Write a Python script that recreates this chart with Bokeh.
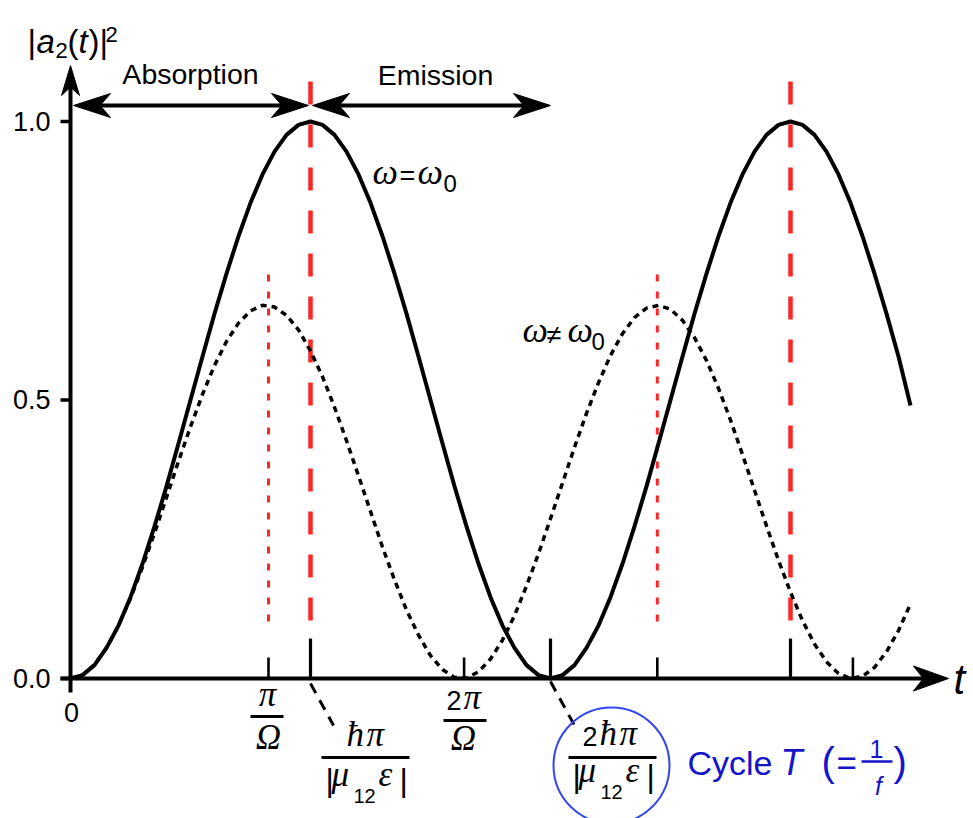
from bokeh.plotting import figure
from bokeh.models import Range1d
from bokeh.embed import file_html
from bokeh.resources import INLINE
from bokeh.core.properties import value

# ---------------- data ----------------
# time in units of the resonant half period (hbar*pi / |mu12 eps|)
t_samples = [round(0.05 * i, 2) for i in range(71)]

# |a2(t)|^2 on resonance (omega = omega0)
resonant = [0.000, 0.006, 0.024, 0.055, 0.095, 0.146, 0.206, 0.273, 0.345, 0.422,
            0.500, 0.578, 0.655, 0.727, 0.794, 0.854, 0.905, 0.946, 0.976, 0.994,
            1.000, 0.994, 0.976, 0.946, 0.905, 0.854, 0.794, 0.727, 0.655, 0.578,
            0.500, 0.422, 0.345, 0.273, 0.206, 0.146, 0.095, 0.055, 0.024, 0.006,
            0.000, 0.006, 0.024, 0.055, 0.095, 0.146, 0.206, 0.273, 0.345, 0.422,
            0.500, 0.578, 0.655, 0.727, 0.794, 0.854, 0.905, 0.946, 0.976, 0.994,
            1.000, 0.994, 0.976, 0.946, 0.905, 0.854, 0.794, 0.727, 0.655, 0.578,
            0.490]

# |a2(t)|^2 off resonance (omega != omega0)
detuned = [0.000, 0.006, 0.025, 0.055, 0.095, 0.144, 0.200, 0.261, 0.325, 0.390,
           0.452, 0.510, 0.562, 0.605, 0.638, 0.660, 0.670, 0.667, 0.652, 0.626,
           0.588, 0.542, 0.487, 0.427, 0.364, 0.300, 0.236, 0.177, 0.123, 0.078,
           0.041, 0.016, 0.002, 0.001, 0.012, 0.035, 0.069, 0.113, 0.166, 0.224,
           0.287, 0.351, 0.415, 0.476, 0.531, 0.580, 0.619, 0.648, 0.665, 0.670,
           0.663, 0.643, 0.612, 0.571, 0.521, 0.464, 0.402, 0.338, 0.274, 0.212,
           0.155, 0.104, 0.062, 0.030, 0.009, 0.000, 0.004, 0.020, 0.048, 0.086,
           0.134]

resonant_ticks = [1.0, 2.0, 3.0]            # hbar*pi/|mu12 eps| multiples
detuned_ticks = [0.825, 1.64, 2.445, 3.26]  # pi/Omega multiples
resonant_peaks = [1.0, 3.0]
detuned_peaks = [0.825, 2.445]
phase_bounds = [0.0, 1.0, 2.0]              # absorption | emission
y_ticks = [0.0, 0.5, 1.0]
y_tick_labels = ["0.0", "0.5", "1.0"]

# ---------------- layout ----------------
W, H = 973, 818
X0, Y0 = 70, 678      # canvas pixel of the origin
SX, SY = 240, 557     # pixels per time unit / per unit probability

SANS = "Liberation Sans"
SERIF = "Liberation Serif"
RED = "#ff2626"
BLUE = "#1414c8"
RING = "#3346ee"
MID = 0.36            # baseline-to-middle distance, in em


def tx(px):
    return (px - X0) / SX


def vy(py):
    return (Y0 - py) / SY


p = figure(width=W, height=H,
           x_range=Range1d(tx(0), tx(W)), y_range=Range1d(vy(H), vy(0)),
           output_backend="svg", toolbar_location=None, min_border=0,
           x_axis_location=None, y_axis_location=None,
           outline_line_color=None, background_fill_color="white",
           border_fill_color="white")
p.xgrid.visible = False
p.ygrid.visible = False


def txt(x, base, s, size, font=SANS, style="normal", color="black", align="left"):
    """Text placed by its baseline (canvas pixels)."""
    p.text(x=[tx(x)], y=[vy(base - MID * size)], text=[s], text_font=value(font),
           text_font_size=f"{size}px", text_font_style=style,
           text_color=color, text_align=align, text_baseline="middle")


def seg(x0, y0, x1, y1, width, color="black", dash="solid"):
    p.segment(x0=[tx(x0)], y0=[vy(y0)], x1=[tx(x1)], y1=[vy(y1)],
              line_width=width, line_color=color, line_dash=dash)


def head(tip_x, tip_y, dx, dy, length, half_w, notch=0.72):
    """Filled stealth arrow head pointing along (dx, dy) in canvas pixels."""
    bx, by = tip_x - dx * length, tip_y - dy * length
    nx, ny = -dy, dx
    xs = [tip_x, bx + nx * half_w, tip_x - dx * length * notch, bx - nx * half_w]
    ys = [tip_y, by + ny * half_w, tip_y - dy * length * notch, by - ny * half_w]
    p.patch([tx(x) for x in xs], [vy(y) for y in ys],
            fill_color="black", line_color="black", line_width=1)
    return tip_x - dx * length * notch, tip_y - dy * length * notch


# ---------------- guide lines ----------------
p.segment(x0=resonant_peaks, y0=vy(81), x1=resonant_peaks, y1=vy(629),
          line_color=RED, line_width=4.5, line_dash="23 20")
p.segment(x0=detuned_peaks, y0=vy(274), x1=detuned_peaks, y1=vy(630),
          line_color=RED, line_width=3, line_dash="7 10")

# ---------------- curves ----------------
p.line(t_samples, detuned, line_color="black", line_width=3.5, line_dash="6 5")
p.line(t_samples, resonant, line_color="black", line_width=4, line_join="round")

# ---------------- axes ----------------
ny_end = head(X0, 65, 0, -1, 30, 9)
seg(X0, 692, X0, ny_end[1], 4)
nx_end = head(948, Y0, 1, 0, 35, 12.5)
seg(60, Y0, nx_end[0], Y0, 4)

# y ticks and labels
p.segment(x0=tx(60), y0=y_ticks, x1=tx(X0), y1=y_ticks, line_color="black", line_width=3.5)
p.text(x=[tx(50)] * len(y_ticks), y=[v + 0.5 / SY for v in y_ticks], text=y_tick_labels,
       text_font=value(SANS), text_font_size="27px", text_align="right",
       text_baseline="middle", text_color="black")
txt(71, 722, "0", 27, align="center")

# x ticks (rising above the axis)
p.segment(x0=resonant_ticks, y0=0, x1=resonant_ticks, y1=40 / SY,
          line_color="black", line_width=3.2)
p.segment(x0=detuned_ticks, y0=0, x1=detuned_ticks, y1=21 / SY,
          line_color="black", line_width=2.6)

# axis titles
txt(27, 53, "|", 33)
txt(36, 53, "a", 33, style="italic")
txt(55, 58, "2", 22)
txt(67, 53, "(", 33)
txt(78, 53, "t", 33, style="italic")
txt(88, 53, ")|", 33)
txt(105, 42, "2", 22)
txt(953, 694, "t", 42, style="italic")

# ---------------- absorption / emission arrows ----------------
arrow_y = 105
a0 = X0 + SX * phase_bounds[0] + 3
a1 = X0 + SX * phase_bounds[1] - 2
e0 = X0 + SX * phase_bounds[1] + 2
e1 = X0 + SX * phase_bounds[2]
l0 = head(a0, arrow_y, -1, 0, 37, 12)
l1 = head(a1, arrow_y, 1, 0, 37, 12)
seg(l0[0], arrow_y, l1[0], arrow_y, 4)
m0 = head(e0, arrow_y, -1, 0, 37, 12)
m1 = head(e1, arrow_y, 1, 0, 37, 12)
seg(m0[0], arrow_y, m1[0], arrow_y, 4)
txt(190, 84, "Absorption", 28.5, align="center")
txt(435, 85, "Emission", 28.5, align="center")

# ---------------- curve labels ----------------
txt(372, 184, "ω", 36, font=SERIF, style="italic")
txt(399, 185, "=", 27)
txt(417, 184, "ω", 36, font=SERIF, style="italic")
txt(443, 192, "0", 24)

txt(522, 342, "ω", 36, font=SERIF, style="italic")
txt(546, 344, "≠", 27)
txt(567, 342, "ω", 36, font=SERIF, style="italic")
txt(591, 350, "0", 24)

# ---------------- tick fractions ----------------
# pi / Omega
txt(267, 707, "π", 35, font=SERIF, style="italic", align="center")
seg(250, 716, 283, 716, 3)
txt(268, 750, "Ω", 35, font=SERIF, style="italic", align="center")

# 2 pi / Omega
txt(446, 710, "2", 27)
txt(463, 710, "π", 35, font=SERIF, style="italic")
seg(443, 720, 486, 720, 3)
txt(463, 751, "Ω", 35, font=SERIF, style="italic", align="center")


def denominator(cx, base):
    txt(cx - 40, base + 4, "|", 32)
    txt(cx - 34, base, "μ", 35, font=SERIF, style="italic")
    txt(cx - 12, base + 16, "12", 20)
    txt(cx + 13, base, "ε", 35, font=SERIF, style="italic")
    txt(cx + 34, base + 4, "|", 32)


# hbar pi / |mu12 eps|
txt(346, 747, "ħ", 35, font=SERIF, style="italic")
txt(366, 747, "π", 35, font=SERIF, style="italic")
seg(321, 757, 409, 757, 3.2)
denominator(365, 787)

# 2 hbar pi / |mu12 eps|
txt(582, 746, "2", 27)
txt(599, 746, "ħ", 35, font=SERIF, style="italic")
txt(619, 746, "π", 35, font=SERIF, style="italic")
seg(568, 757, 656, 757, 3.2)
denominator(612, 783)

# leaders from the resonant ticks to their labels
p.segment(x0=[resonant_ticks[0], resonant_ticks[1]], y0=[vy(683), vy(681)],
          x1=[resonant_ticks[0] + 23 / SX, resonant_ticks[1] + 24 / SX],
          y1=[vy(725), vy(725)], line_color="black", line_width=3, line_dash="11 8")

# cycle marker
p.scatter(x=[tx(611)], y=[vy(765)], size=116, marker="circle",
          fill_color=None, line_color=RING, line_width=2)
txt(687, 775, "Cycle", 34, color=BLUE)
txt(780, 775, "T", 36, style="italic", color=BLUE)
txt(821, 776, "(", 40, color=BLUE)
txt(836, 775, "=", 35, color=BLUE)
txt(876, 757, "1", 25, color=BLUE, align="center")
seg(861, 761, 892, 761, 2.5, color=BLUE)
txt(878, 794, "f", 25, style="italic", color=BLUE, align="center")
txt(893, 776, ")", 40, color=BLUE)

open("out.html", "w").write(file_html(p, INLINE))
